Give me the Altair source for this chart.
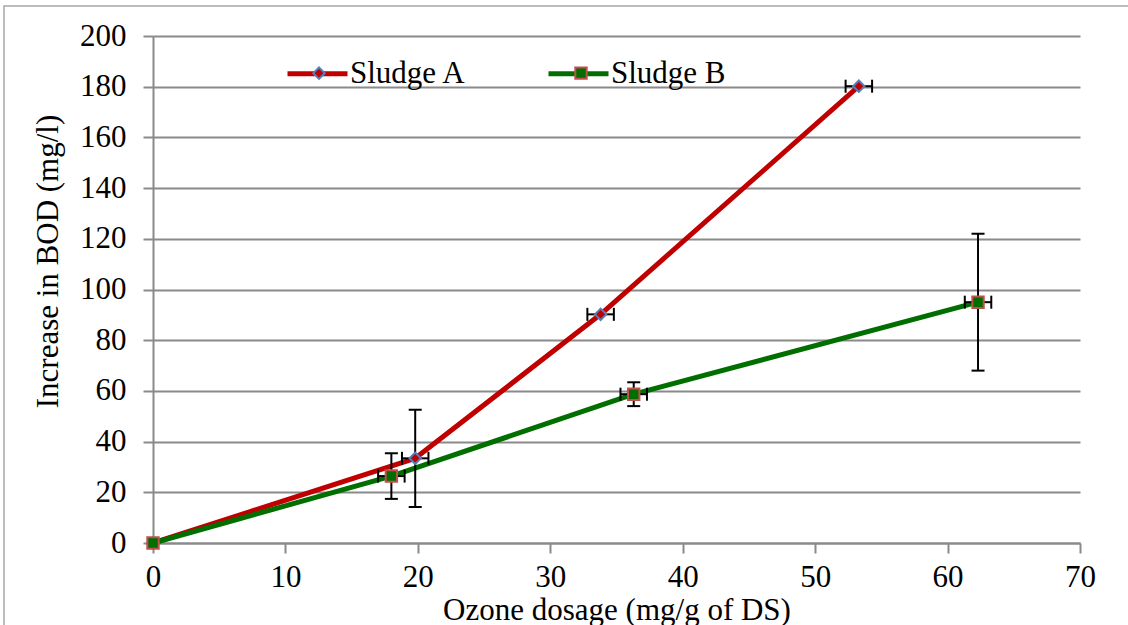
import altair as alt
import pandas as pd

# ---- data ----
series = ["Sludge A", "Sludge A", "Sludge A", "Sludge A",
          "Sludge B", "Sludge B", "Sludge B", "Sludge B"]
marker_key = ["A", "A", "A", "A", "B", "B", "B", "B"]
dosage = [0, 19.8, 33.8, 53.3, 0, 18.0, 36.3, 62.3]
bod = [0, 33.4, 90.2, 180.2, 0, 26.4, 58.7, 95.0]
bod_err = [0, 19.2, 0, 0, 0, 9.0, 4.7, 27.0]
dose_err = [0, 1.0, 1.0, 1.0, 0, 1.0, 1.0, 1.0]

x_ticks = [0, 10, 20, 30, 40, 50, 60, 70]
y_ticks = [0, 20, 40, 60, 80, 100, 120, 140, 160, 180, 200]

df = pd.DataFrame({
    "series": series, "key": marker_key, "dosage": dosage, "bod": bod,
    "bod_err": bod_err, "dose_err": dose_err,
})
df["bod_lo"] = df["bod"] - df["bod_err"]
df["bod_hi"] = df["bod"] + df["bod_err"]
df["dose_lo"] = df["dosage"] - df["dose_err"]
df["dose_hi"] = df["dosage"] + df["dose_err"]

FONT = "Liberation Serif"
GRAY = "#8a8a8a"
RED = "#C00000"
GREEN = "#006F00"

xscale = alt.Scale(domain=[0, 70], nice=False)
yscale = alt.Scale(domain=[0, 200], nice=False)

xaxis = alt.Axis(values=x_ticks, grid=False, labelFlush=False,
                 domainColor=GRAY, domainWidth=2, tickColor=GRAY, tickWidth=2, tickSize=10,
                 labelFont=FONT, labelFontSize=31, labelColor="black", labelPadding=9,
                 title="Ozone dosage (mg/g of DS)", titleFont=FONT, titleFontSize=31,
                 titleFontWeight="normal", titleColor="black", titleY=76,
                 titleBaseline="alphabetic")
yaxis = alt.Axis(values=y_ticks, grid=True, gridColor=GRAY, gridWidth=2, labelFlush=False,
                 domainColor=GRAY, domainWidth=2, tickColor=GRAY, tickWidth=2, tickSize=10,
                 labelFont=FONT, labelFontSize=31, labelColor="black", labelPadding=17,
                 title="Increase in BOD (mg/l)", titleFont=FONT, titleFontSize=31,
                 titleFontWeight="normal", titleColor="black", titleAngle=270,
                 titleX=-96, titleY=225, titleAlign="center", titleBaseline="alphabetic")

base = alt.Chart(df)

lines = base.mark_line(strokeWidth=5, strokeJoin="round", strokeCap="round").encode(
    x=alt.X("dosage:Q", scale=xscale, axis=xaxis),
    y=alt.Y("bod:Q", scale=yscale, axis=yaxis),
    color=alt.Color("series:N",
                    scale=alt.Scale(domain=["Sludge A", "Sludge B"], range=[RED, GREEN]),
                    legend=alt.Legend(orient="none", legendX=132, legendY=5,
                                      direction="horizontal", title=None,
                                      symbolType="stroke", symbolSize=3600,
                                      symbolStrokeWidth=5, labelFont=FONT,
                                      labelFontSize=31, labelColor="black",
                                      labelOffset=0, columnPadding=71, padding=0)),
    order="dosage:Q",
)

verr = base.transform_filter("datum.bod_err > 0")
herr = base.transform_filter("datum.dose_err > 0")

v_rule = verr.mark_rule(color="black", strokeWidth=2).encode(
    x="dosage:Q", y="bod_lo:Q", y2="bod_hi:Q")
v_cap_lo = verr.mark_tick(orient="horizontal", color="black", size=13, thickness=2, opacity=1).encode(
    x="dosage:Q", y="bod_lo:Q")
v_cap_hi = verr.mark_tick(orient="horizontal", color="black", size=13, thickness=2, opacity=1).encode(
    x="dosage:Q", y="bod_hi:Q")
h_rule = herr.mark_rule(color="black", strokeWidth=2).encode(
    y="bod:Q", x="dose_lo:Q", x2="dose_hi:Q")
h_cap_lo = herr.mark_tick(orient="vertical", color="black", size=13, thickness=2, opacity=1).encode(
    y="bod:Q", x="dose_lo:Q")
h_cap_hi = herr.mark_tick(orient="vertical", color="black", size=13, thickness=2, opacity=1).encode(
    y="bod:Q", x="dose_hi:Q")

pt_legend = alt.Legend(orient="none", legendX=159, legendY=30, direction="horizontal",
                       title=None, labelExpr="''", symbolSize=130, symbolStrokeWidth=2,
                       symbolOpacity=1, labelOffset=0, columnPadding=242, padding=0)
points = base.mark_point(filled=True, opacity=1, strokeWidth=2, size=130).encode(
    x="dosage:Q", y="bod:Q",
    shape=alt.Shape("key:N", scale=alt.Scale(domain=["A", "B"], range=["diamond", "square"]),
                    legend=pt_legend),
    fill=alt.Fill("key:N", scale=alt.Scale(domain=["A", "B"], range=[RED, GREEN]),
                  legend=pt_legend),
    stroke=alt.Stroke("key:N", scale=alt.Scale(domain=["A", "B"], range=["#4F81BD", "#C0504D"]),
                      legend=pt_legend),
)

frame = alt.Chart(pd.DataFrame({"f": [0]})).mark_rect(
    fillOpacity=0, stroke="#a6a6a6", strokeWidth=1.5).encode(
    x=alt.value(-149), x2=alt.value(990), y=alt.value(-30), y2=alt.value(640))

chart = alt.layer(frame, lines, v_rule, v_cap_lo, v_cap_hi, h_rule, h_cap_lo, h_cap_hi, points).properties(
    width=927, height=507,
    autosize=alt.AutoSizeParams(type="none"),
    padding={"left": 153, "top": 36, "right": 48, "bottom": 82},
    background="white",
).configure_view(stroke=None)

chart.save("out.html", embed_options={"renderer": "svg", "actions": False})
